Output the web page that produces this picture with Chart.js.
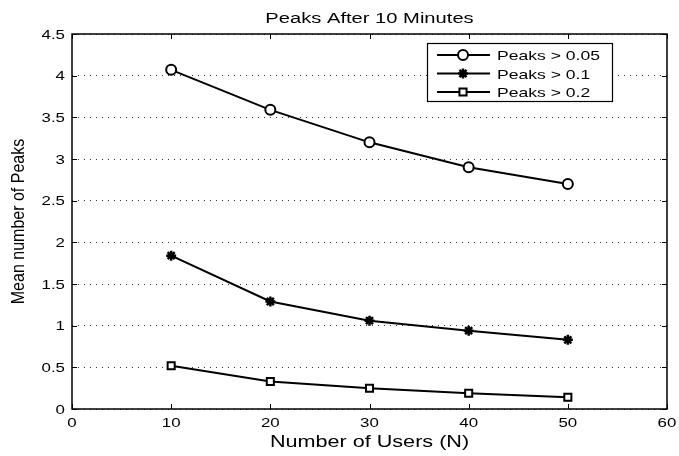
<!DOCTYPE html>
<html>
<head>
<meta charset="utf-8">
<script src="https://cdn.jsdelivr.net/npm/chart.js@4/dist/chart.umd.min.js"></script>
<style>
  html, body { margin: 0; padding: 0; background: #fff; }
  #wrap { width: 679px; height: 456px; }
</style>
</head>
<body>
<div id="wrap"><canvas id="c" width="679" height="456"></canvas></div>
<script>
// ---------- data ----------
const users = [10, 20, 30, 40, 50];
const peaks005 = [4.07, 3.59, 3.20, 2.90, 2.70];
const peaks01  = [1.84, 1.29, 1.06, 0.94, 0.83];
const peaks02  = [0.52, 0.33, 0.25, 0.19, 0.14];
const seriesNames = ['Peaks > 0.05', 'Peaks > 0.1', 'Peaks > 0.2'];
const chartTitle = 'Peaks After 10 Minutes';
const xLabel = 'Number of Users (N)';
const yLabel = 'Mean number of Peaks';

const FONT = '"Liberation Sans", Arial, Helvetica, sans-serif';
const STRETCH = 1.35;   // the source figure was widened, so its text looks wide
const pts = vals => users.map((x, i) => ({ x, y: vals[i] }));

// draw text stretched horizontally
function wideText(ctx, txt, x, y, align, size, rot, stretch = STRETCH) {
  ctx.save();
  ctx.translate(x, y);
  ctx.scale(stretch, 1);
  if (rot) ctx.rotate(rot);
  ctx.font = size + 'px ' + FONT;
  ctx.fillStyle = '#000';
  ctx.textAlign = align;
  ctx.textBaseline = 'alphabetic';
  ctx.fillText(txt, 0, 0);
  ctx.restore();
}

// ---------- MATLAB-ish box, inward ticks, labels, legend ----------
const matlabFrame = {
  id: 'matlabFrame',
  afterDraw(chart) {
    const { ctx, chartArea: a, scales } = chart;
    const tl = 5;
    ctx.save();
    ctx.strokeStyle = '#000';
    ctx.lineWidth = 1.5;
    ctx.strokeRect(a.left, a.top, a.right - a.left, a.bottom - a.top);
    ctx.lineWidth = 1;
    ctx.beginPath();
    scales.x.ticks.forEach(t => {
      const px = Math.round(scales.x.getPixelForValue(t.value)) + 0.5;
      ctx.moveTo(px, a.bottom); ctx.lineTo(px, a.bottom - tl);
      ctx.moveTo(px, a.top); ctx.lineTo(px, a.top + tl);
    });
    scales.y.ticks.forEach(t => {
      const py = Math.round(scales.y.getPixelForValue(t.value)) + 0.5;
      ctx.moveTo(a.left, py); ctx.lineTo(a.left + tl, py);
      ctx.moveTo(a.right, py); ctx.lineTo(a.right - tl, py);
    });
    ctx.stroke();
    ctx.restore();

    // tick labels
    scales.x.ticks.forEach(t => {
      wideText(ctx, String(t.value), scales.x.getPixelForValue(t.value), a.bottom + 18, 'center', 12.5);
    });
    scales.y.ticks.forEach(t => {
      wideText(ctx, String(t.value), a.left - 7, scales.y.getPixelForValue(t.value) + 4.5, 'right', 12.5);
    });

    // titles
    const cx = (a.left + a.right) / 2;
    wideText(ctx, chartTitle, cx, 23, 'center', 15.5, 0, 1.3);
    wideText(ctx, xLabel, cx, 447, 'center', 16);
    wideText(ctx, yLabel, 24, (a.top + a.bottom) / 2, 'center', 16, -Math.PI / 2, 1.2);

    // legend box
    const bx = 427, by = 43, bw = 185, bh = 58;
    ctx.save();
    ctx.fillStyle = '#fff';
    ctx.fillRect(bx, by, bw, bh);
    ctx.strokeStyle = '#000';
    ctx.lineWidth = 1.2;
    ctx.strokeRect(bx + 0.5, by + 0.5, bw, bh);
    chart.data.datasets.forEach((ds, i) => {
      const cy = by + 12 + i * 18.5;
      ctx.strokeStyle = '#000';
      ctx.lineWidth = 2;
      ctx.beginPath();
      ctx.moveTo(bx + 10, cy); ctx.lineTo(bx + 63, cy);
      ctx.stroke();
      ctx.fillStyle = ds.pointBackgroundColor;
      ctx.strokeStyle = '#000';
      ctx.lineWidth = ds.pointBorderWidth;
      Chart.helpers.drawPoint(ctx, {
        pointStyle: ds.pointStyle, radius: ds.pointRadius, borderWidth: ds.pointBorderWidth
      }, bx + 36, cy);
      wideText(ctx, ds.label, bx + 70, cy + 5, 'left', 13);
    });
    ctx.restore();
  }
};

const common = {
  showLine: true,
  borderColor: '#000',
  borderWidth: 2,
  pointBorderColor: '#000',
  pointBorderWidth: 2,
  tension: 0
};

new Chart(document.getElementById('c'), {
  type: 'scatter',
  data: {
    datasets: [
      { ...common, label: seriesNames[0], data: pts(peaks005), pointStyle: 'circle', pointRadius: 5, pointBackgroundColor: '#fff' },
      { ...common, label: seriesNames[1], data: pts(peaks01), pointStyle: 'star', pointRadius: 5, pointBorderWidth: 2.5, pointBackgroundColor: '#000' },
      { ...common, label: seriesNames[2], data: pts(peaks02), pointStyle: 'rect', pointRadius: 5, pointBackgroundColor: '#fff' }
    ]
  },
  options: {
    responsive: false,
    animation: false,
    layout: { padding: { top: 34, right: 12, left: 0, bottom: 0 } },
    plugins: { legend: { display: false }, tooltip: { enabled: false } },
    scales: {
      x: {
        type: 'linear', min: 0, max: 60,
        ticks: { stepSize: 10, display: false },
        grid: { display: false, drawTicks: false },
        border: { display: false },
        afterFit(s) { s.height = 47; }
      },
      y: {
        min: 0, max: 4.5,
        ticks: { stepSize: 0.5, display: false },
        grid: { color: '#333', lineWidth: 1, drawTicks: false },
        border: { display: false, dash: [1, 5] },
        afterFit(s) { s.width = 72; }
      }
    }
  },
  plugins: [matlabFrame]
});
</script>
</body>
</html>
